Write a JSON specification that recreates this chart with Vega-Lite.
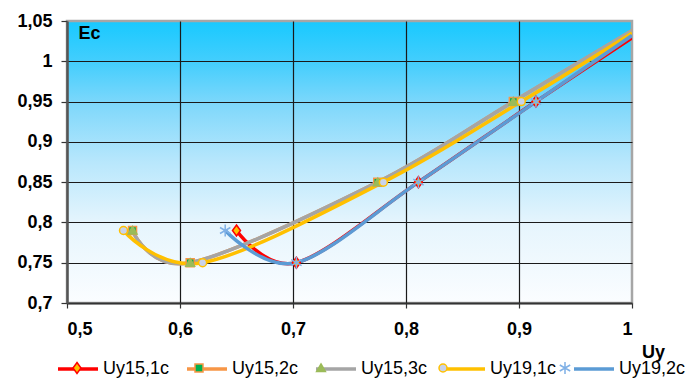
{
  "$schema": "https://vega.github.io/schema/vega-lite/v6.json",
  "autosize": "none",
  "width": 565,
  "height": 282,
  "padding": {"left": 67, "top": 21, "right": 54, "bottom": 76},
  "background": "white",
  "view": {
    "stroke": "#a6a6a6",
    "strokeWidth": 2.5,
    "fill": {
      "gradient": "linear", "x1": 0, "y1": 0, "x2": 0, "y2": 1,
      "stops": [
        {"offset": 0, "color": "#18c9ff"},
        {"offset": 0.15, "color": "#45cefd"},
        {"offset": 0.3, "color": "#80d8fb"},
        {"offset": 0.5, "color": "#b8e7fc"},
        {"offset": 0.72, "color": "#e6f5fd"},
        {"offset": 1, "color": "#fbfdff"}
      ]
    }
  },
  "config": {"font": "Liberation Sans"},
  "data": {
    "values": [
      {"s": "Uy15,1c", "x": 0.65, "y": 0.79},
      {"s": "Uy15,1c", "x": 0.703, "y": 0.75},
      {"s": "Uy15,1c", "x": 0.811, "y": 0.85},
      {"s": "Uy15,1c", "x": 0.915, "y": 0.95},
      {"s": "Uy15,1c", "x": 1.0, "y": 1.029},
      {"s": "Uy15,2c", "x": 0.558, "y": 0.79},
      {"s": "Uy15,2c", "x": 0.609, "y": 0.75},
      {"s": "Uy15,2c", "x": 0.775, "y": 0.85},
      {"s": "Uy15,2c", "x": 0.895, "y": 0.95},
      {"s": "Uy15,2c", "x": 1.0, "y": 1.038},
      {"s": "Uy15,3c", "x": 0.558, "y": 0.79},
      {"s": "Uy15,3c", "x": 0.609, "y": 0.75},
      {"s": "Uy15,3c", "x": 0.775, "y": 0.85},
      {"s": "Uy15,3c", "x": 0.895, "y": 0.95},
      {"s": "Uy15,3c", "x": 1.0, "y": 1.038},
      {"s": "Uy19,1c", "x": 0.55, "y": 0.79},
      {"s": "Uy19,1c", "x": 0.62, "y": 0.75},
      {"s": "Uy19,1c", "x": 0.78, "y": 0.85},
      {"s": "Uy19,1c", "x": 0.902, "y": 0.95},
      {"s": "Uy19,1c", "x": 1.0, "y": 1.035},
      {"s": "Uy19,2c", "x": 0.64, "y": 0.79},
      {"s": "Uy19,2c", "x": 0.703, "y": 0.75},
      {"s": "Uy19,2c", "x": 0.811, "y": 0.85},
      {"s": "Uy19,2c", "x": 0.915, "y": 0.95},
      {"s": "Uy19,2c", "x": 1.0, "y": 1.032}
    ]
  },
  "encoding": {
    "x": {
      "field": "x", "type": "quantitative",
      "scale": {"domain": [0.5, 1], "nice": false, "zero": false},
      "axis": {
        "title": "Uy",
        "values": [0.5, 0.6, 0.7, 0.8, 0.9, 1],
        "labelExpr": "replace(format(datum.value, '.2~f'), '.', ',')",
        "labelFont": "Liberation Sans", "labelFontSize": 18, "labelFontWeight": "bold", "labelColor": "#000",
        "labelPadding": 12, "tickSize": 5, "tickColor": "#333", "tickWidth": 1.2,
        "domainColor": "#333", "domainWidth": 2,
        "grid": true, "gridColor": "#1a1a1a", "gridWidth": 1.2,
        "gridOpacity": {"condition": {"test": "datum.value <= 0.5 || datum.value >= 1", "value": 0}, "value": 1},
        "titleFont": "Liberation Sans", "titleFontSize": 18, "titleFontWeight": "bold", "titleColor": "#000",
        "titleX": 586, "titleY": 54, "titleAlign": "center", "titleBaseline": "alphabetic"
      }
    },
    "y": {
      "field": "y", "type": "quantitative",
      "scale": {"domain": [0.7, 1.05], "nice": false, "zero": false},
      "axis": {
        "title": "Ec",
        "values": [0.7, 0.75, 0.8, 0.85, 0.9, 0.95, 1, 1.05],
        "labelExpr": "replace(format(datum.value, '.2~f'), '.', ',')",
        "labelFont": "Liberation Sans", "labelFontSize": 18, "labelFontWeight": "bold", "labelColor": "#000",
        "labelPadding": 9, "tickSize": 6, "tickColor": "#333", "tickWidth": 1.2,
        "domainColor": "#555", "domainWidth": 2.5,
        "grid": true, "gridColor": "#1a1a1a", "gridWidth": 1.2,
        "gridOpacity": {"condition": {"test": "datum.value <= 0.7 || datum.value >= 1.05", "value": 0}, "value": 1},
        "titleFont": "Liberation Sans", "titleFontSize": 18, "titleFontWeight": "bold", "titleColor": "#000",
        "titleAngle": 0, "titleX": 11, "titleY": 17, "titleAlign": "left", "titleBaseline": "alphabetic"
      }
    }
  },
  "layer": [
    {
      "mark": {"type": "line", "interpolate": "cardinal", "clip": true},
      "encoding": {
        "color": {
          "field": "s", "type": "nominal",
          "scale": {
            "domain": ["Uy15,1c", "Uy15,2c", "Uy15,3c", "Uy19,1c", "Uy19,2c"],
            "range": ["#ff0000", "#f79646", "#a5a5a5", "#ffc000", "#5b9bd5"]
          },
          "legend": {
            "title": null, "orient": "none", "legendX": -11, "legendY": 326,
            "direction": "horizontal", "columns": 5, "padding": 0,
            "symbolType": "stroke", "symbolSize": 1600, "symbolStrokeWidth": 4,
            "labelFont": "Liberation Sans", "labelFontSize": 18, "labelColor": "#000",
            "labelOffset": 3, "columnPadding": 10, "labelLimit": 300
          }
        },
        "strokeWidth": {
          "field": "s", "type": "nominal",
          "scale": {
            "domain": ["Uy15,1c", "Uy15,2c", "Uy15,3c", "Uy19,1c", "Uy19,2c"],
            "range": [3.5, 3.5, 5, 4, 3.5]
          },
          "legend": null
        }
      }
    },
    {
      "transform": [{"filter": "datum.x < 1"}],
      "mark": {"type": "point", "size": 1600, "opacity": 1, "strokeWidth": 1.5, "clip": true},
      "encoding": {
        "shape": {
          "field": "s", "type": "nominal",
          "scale": {
            "range": [
              "M0,-0.275L0.2,0L0,0.275L-0.2,0Z",
              "M-0.2,-0.2H0.2V0.2H-0.2Z",
              "M0,-0.2L0.22,0.18H-0.22Z",
              "M0.2,0A0.2,0.2 0 1,1 -0.2,0A0.2,0.2 0 1,1 0.2,0Z",
              "M0,-0.3V0.3M-0.26,-0.15L0.26,0.15M-0.26,0.15L0.26,-0.15"
            ]
          },
          "legend": {
            "title": null, "orient": "none", "legendX": -11, "legendY": 326,
            "direction": "horizontal", "columns": 5, "padding": 0,
            "symbolSize": 1600, "symbolStrokeWidth": 1.5,
            "labelFont": "Liberation Sans", "labelFontSize": 18, "labelColor": "transparent",
            "labelOffset": 3, "columnPadding": 10, "labelLimit": 300
          }
        },
        "fill": {
          "field": "s", "type": "nominal",
          "scale": {"range": ["#ffc000", "#00b050", "#9bbb59", "#c9d3ea", "#5b9bd5"]},
          "legend": {
            "title": null, "orient": "none", "legendX": -11, "legendY": 326,
            "direction": "horizontal", "columns": 5, "padding": 0,
            "symbolSize": 1600, "symbolStrokeWidth": 1.5,
            "labelFont": "Liberation Sans", "labelFontSize": 18, "labelColor": "transparent",
            "labelOffset": 3, "columnPadding": 10, "labelLimit": 300
          }
        },
        "stroke": {
          "field": "s", "type": "nominal",
          "scale": {"range": ["#ff0000", "#f79646", "#9bbb59", "#ffc000", "#7fb0e6"]},
          "legend": {
            "title": null, "orient": "none", "legendX": -11, "legendY": 326,
            "direction": "horizontal", "columns": 5, "padding": 0,
            "symbolSize": 1600, "symbolStrokeWidth": 1.5,
            "labelFont": "Liberation Sans", "labelFontSize": 18, "labelColor": "transparent",
            "labelOffset": 3, "columnPadding": 10, "labelLimit": 300
          }
        }
      }
    }
  ]
}
